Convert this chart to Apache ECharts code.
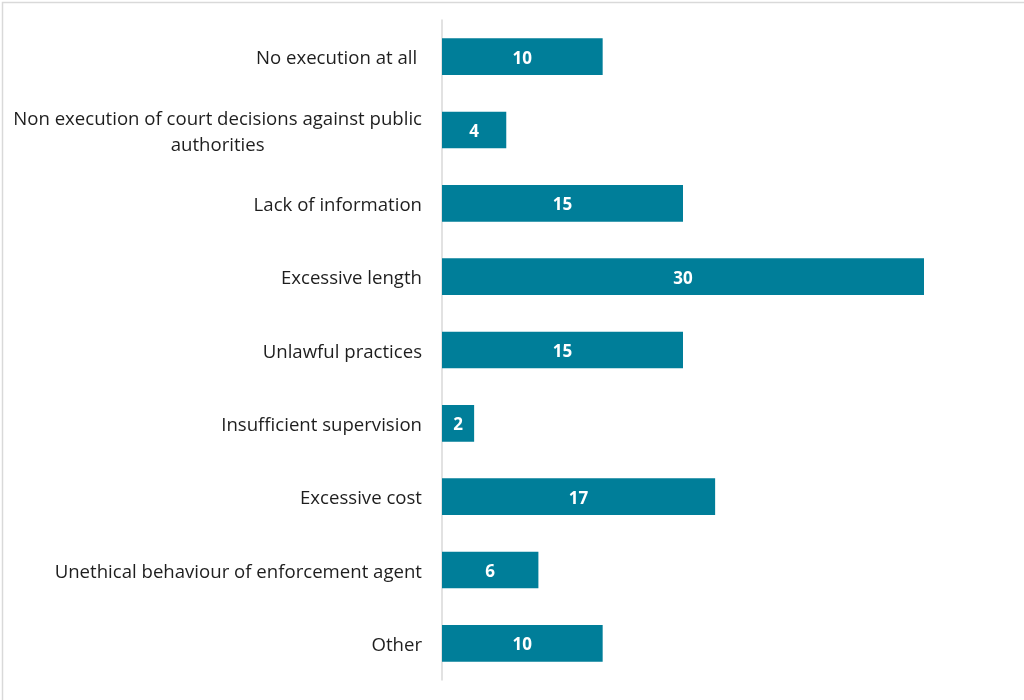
<!DOCTYPE html>
<html>
<head>
<meta charset="utf-8">
<script src="https://cdn.jsdelivr.net/npm/echarts@6/dist/echarts.min.js"></script>
<style>
  html, body { margin: 0; padding: 0; background: #ffffff; }
  #chart { width: 1024px; height: 700px; }
</style>
</head>
<body>
<div id="chart"></div>
<script>
// Reported problems with enforcement, by type
const categories = [
  'No execution at all ',
  'Non execution of court decisions against public\nauthorities',
  'Lack of information',
  'Excessive length',
  'Unlawful practices',
  'Insufficient supervision',
  'Excessive cost',
  'Unethical behaviour of enforcement agent',
  'Other'
];
const counts = [10, 4, 15, 30, 15, 2, 17, 6, 10];

const FONT = 'Open Sans';
const BAR_COLOR = '#007e99';
const LABEL_STYLE = { color: '#1e1e1e', fontFamily: FONT, fontSize: 18.6, lineHeight: 26, align: 'center' };

const chart = echarts.init(document.getElementById('chart'), null, { renderer: 'canvas' });

chart.setOption({
  animation: false,
  backgroundColor: '#ffffff',
  graphic: [{
    type: 'rect',
    left: 0, top: 0,
    shape: { x: 0.75, y: 0.75, width: 1022.5, height: 698.5 },
    style: { fill: 'none', stroke: '#d9d9d9', lineWidth: 1.5 },
    silent: true
  }],
  grid: { left: 442, right: 100, top: 20, bottom: 20, containLabel: false },
  xAxis: {
    type: 'value',
    min: 0,
    max: 30,
    show: false
  },
  yAxis: {
    type: 'category',
    data: categories,
    inverse: true,
    axisLine: { show: true, lineStyle: { color: '#d9d9d9', width: 1.5 } },
    axisTick: { show: false },
    splitLine: { show: false },
    axisLabel: {
      margin: 20,
      color: '#1e1e1e',
      fontFamily: FONT,
      fontSize: 18.6,
      lineHeight: 26,
      align: 'right',
      padding: [5, 0, 0, 0],
      // wrapped labels: lines centred on each other, block right-aligned to the axis
      formatter: v => v.split('\n').map(line => '{c|' + line + '}').join('\n'),
      rich: { c: LABEL_STYLE }
    }
  },
  series: [{
    type: 'bar',
    data: counts,
    barWidth: '50%',
    itemStyle: { color: BAR_COLOR },
    label: {
      show: true,
      position: 'inside',
      offset: [0, 2],
      color: '#ffffff',
      fontFamily: FONT,
      fontWeight: 'bold',
      fontSize: 17
    }
  }]
});
</script>
</body>
</html>
